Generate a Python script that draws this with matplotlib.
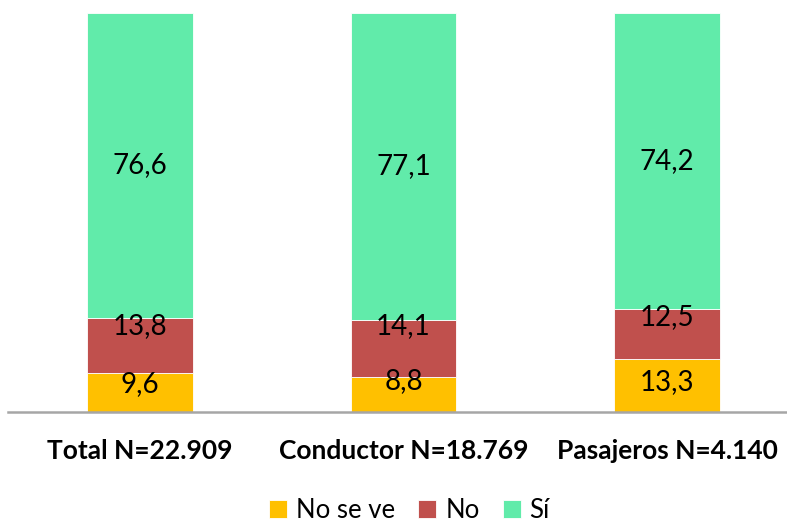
import matplotlib
matplotlib.use("Agg")
import matplotlib.pyplot as plt
import numpy as np

categories = ["Total N=22.909", "Conductor N=18.769", "Pasajeros N=4.140"]
series_names = ["No se ve", "No", "Sí"]
no_se_ve = [9.6, 8.8, 13.3]
no = [13.8, 14.1, 12.5]
si = [76.6, 77.1, 74.2]
label_text = [["9,6", "8,8", "13,3"], ["13,8", "14,1", "12,5"], ["76,6", "77,1", "74,2"]]

colors = ["#FFC000", "#C0504D", "#61EBAA"]
# vertical nudges for labels (pixels, positive = up)
nudges = [[9, 13, 3], [20, 22, 17], [0, 0, 0]]

plt.rcParams['font.family'] = ['Lato', 'DejaVu Sans']

W, H = 787, 522
fig = plt.figure(figsize=(W / 100, H / 100), dpi=100)
ax_left = 8 / W
ax_bottom = (H - 411.7) / H
ax_top = (H - 12.7) / H
ax = fig.add_axes([ax_left, ax_bottom, 1 - ax_left, ax_top - ax_bottom])

x = np.arange(len(categories))
data = [no_se_ve, no, si]
bottom = np.zeros(len(categories))
handles = []
for i, (vals, name, col) in enumerate(zip(data, series_names, colors)):
    vals = np.array(vals)
    b = ax.bar(x, vals, 0.4, bottom=bottom, color=col, edgecolor="white",
               linewidth=0.6, label=name, zorder=2)
    handles.append(b)
    for j in range(len(x)):
        ax.annotate(label_text[i][j], (x[j], bottom[j] + vals[j] / 2),
                    xytext=(0, nudges[i][j]), textcoords="offset pixels",
                    ha="center", va="center", fontsize=20, color="black", zorder=3)
    bottom = bottom + vals

px_per_unit = 263.5
ax.set_xlim(-132 / px_per_unit, -132 / px_per_unit + (W - 8) / px_per_unit)
ax.set_ylim(0, 100)
ax.set_xticks(x)
ax.set_xticklabels(categories, fontsize=19, fontweight="bold")
ax.tick_params(axis="x", length=0, pad=20)
ax.set_yticks([])
for s in ["top", "right", "left"]:
    ax.spines[s].set_visible(False)
ax.spines["bottom"].set_color("#A6A6A6")
ax.spines["bottom"].set_linewidth(1.8)
ax.spines["bottom"].set_zorder(4)

fig.legend(handles=handles, labels=series_names, loc="center",
           bbox_to_anchor=(409.5 / W, (H - 510) / H), ncol=3, frameon=False,
           fontsize=18.5, handlelength=0.7, handleheight=0.7, handletextpad=0.35,
           columnspacing=0.9, borderaxespad=0)

fig.savefig("out.png", dpi=100)
